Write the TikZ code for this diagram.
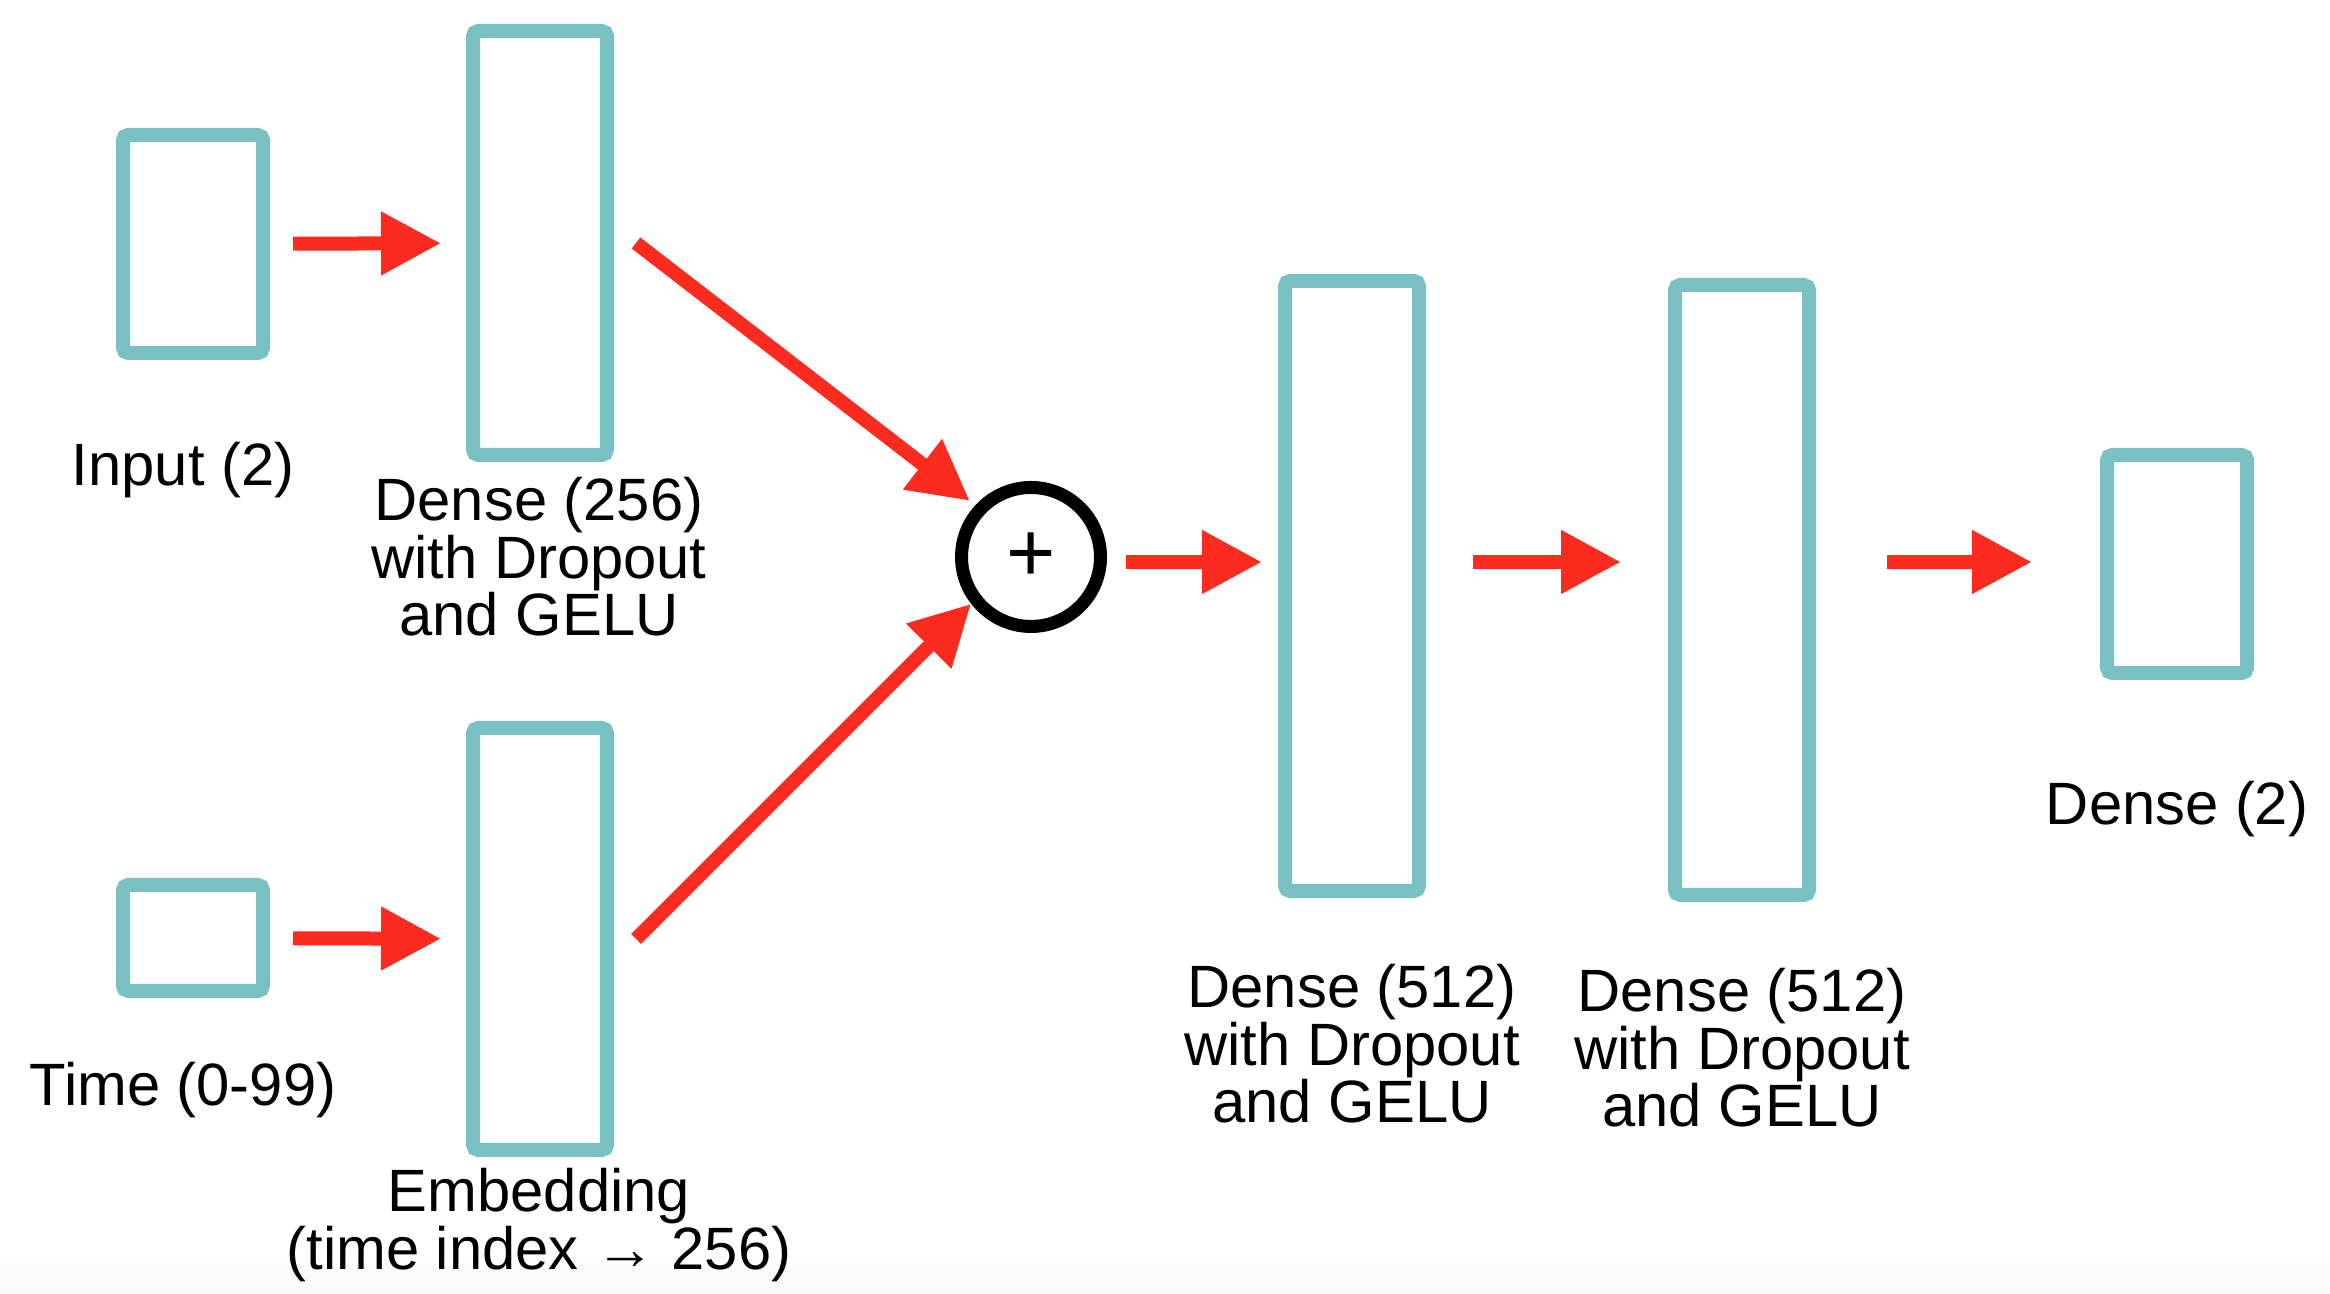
\documentclass[tikz,border=0pt]{standalone}
\usepackage{fontspec}
\setmainfont{Liberation Sans}
\usetikzlibrary{arrows.meta}

\definecolor{layerteal}{RGB}{120,192,193}
\definecolor{flowred}{RGB}{252,43,32}

\begin{document}
\begin{tikzpicture}[
    layer/.style={
        rectangle,
        draw=layerteal,
        line width=0.14cm,
        rounded corners=1.5pt,
        minimum width=1.34cm,
        inner sep=0pt
    },
    arrow/.style={
        -{Triangle[length=0.6cm,width=0.6cm]},
        draw=flowred,
        line width=0.14cm
    },
    sum/.style={
        circle,
        draw=black,
        line width=0.13cm,
        minimum size=1.39cm,
        inner sep=0pt,
        font=\fontsize{24}{24}\selectfont
    },
    desc/.style={
        align=center,
        inner sep=0pt,
        font=\fontsize{17}{16.4}\selectfont
    }
]

\useasboundingbox (0,0) rectangle (23.3,12.94);
\shade[top color=white, bottom color=black!3] (0,0) rectangle (23.3,0.38);

% Layers
\node[layer, minimum width=1.40cm, minimum height=2.18cm] (in) at (1.93,10.50) {};
\node[layer, minimum height=4.24cm] (d1) at (5.40,10.51) {};
\node[layer, minimum width=1.40cm, minimum height=1.06cm] (time) at (1.93,3.56) {};
\node[layer, minimum height=4.22cm] (emb) at (5.40,3.55) {};
\node[sum] (add) at (10.31,7.37) {+};
\node[layer, minimum height=6.10cm] (d2) at (13.52,7.08) {};
\node[layer, minimum height=6.10cm] (d3) at (17.42,7.04) {};
\node[layer, minimum width=1.40cm, minimum height=2.18cm] (out) at (21.77,7.30) {};
\coordinate (lvl) at ([yshift=-0.05cm]add.center);

% Labels
\node[desc] (inlbl) at (1.83,8.24) {Input (2)};
\node[desc] (d1lbl) at (5.39,7.37) {Dense (256)\\with Dropout\\and GELU};
\node[desc] (timelbl) at (1.83,2.04) {Time (0-99)};
\node[desc] (emblbl) at (5.39,0.69) {Embedding\\(time index → 256)};
\node[desc] (d2lbl) at (13.52,2.50) {Dense (512)\\with Dropout\\and GELU};
\node[desc] (d3lbl) at (17.42,2.46) {Dense (512)\\with Dropout\\and GELU};
\node[desc] (outlbl) at (21.77,4.85) {Dense (2)};

% Arrows
\draw[arrow, shorten <=0.23cm, shorten >=0.25cm] (in) -- (d1);
\draw[arrow, shorten <=0.23cm, shorten >=0.25cm] (time) -- (emb);
\draw[arrow, shorten >=0.07cm] ([xshift=0.22cm]d1.east) -- (add.137);
\draw[arrow] ([xshift=0.22cm]emb.east) -- (add.218);
\draw[arrow, shorten >=0.16cm] ([xshift=0.19cm]add.east |- lvl) -- (d2.west |- lvl);
\draw[arrow, shorten <=0.47cm, shorten >=0.47cm] (d2.east |- lvl) -- (d3.west |- lvl);
\draw[arrow, shorten <=0.71cm, shorten >=0.68cm] (d3.east |- lvl) -- (out.west |- lvl);

\end{tikzpicture}
\end{document}
